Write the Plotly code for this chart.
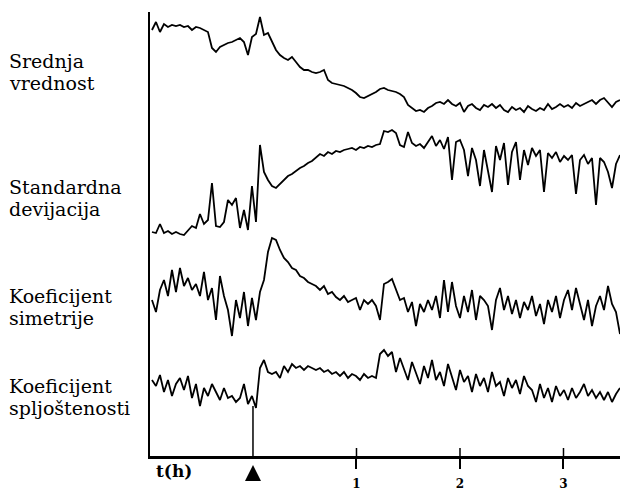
import numpy as np
import plotly.graph_objects as go

srednja = [90,98,88,96,93,95,94,95,93,94, 90,93,92,90,88,72,68,73,75,77,
           78,80,82,78,65,83,86,103,85,87, 78,70,65,62,60,63,58,53,50,50,
           48,47,48,50,40,37,36,35,34,32, 30,27,23,22,24,26,28,31,32,30,
           29,28,26,23,15,12,9,10,8,12, 14,17,18,16,20,16,14,17,8,14,
           16,12,10,15,13,16,12,15,10,8, 13,10,12,8,14,11,9,12,10,16,
           11,13,16,13,15,12,17,14,16,18, 20,16,20,22,17,13,18,20]
standardna = [8,7,16,7,9,6,8,6,5,10, 14,12,26,16,20,57,14,13,18,40,
              35,42,12,30,10,54,18,95,68,60, 54,52,56,60,64,66,69,72,74,77,
              79,83,86,84,88,86,89,88,90,91, 92,90,93,92,94,93,95,96,109,108,
              110,107,95,93,108,97,94,96,92,98, 104,94,100,91,103,60,98,100,90,64,
              92,80,54,90,70,48,94,80,97,55, 88,98,60,90,75,92,84,90,48,87,
              82,88,78,84,80,85,46,80,85,76, 82,35,82,78,68,52,76,85]
simetrija = [45,33,55,65,49,75,53,77,59,67, 55,61,49,73,45,57,25,69,49,35,
             9,45,27,53,19,47,25,53,65,93, 107,105,95,87,83,77,75,69,67,63,
             61,59,55,59,51,53,48,45,49,43, 45,47,35,45,41,45,39,25,61,63,
             66,55,45,47,33,43,19,41,33,45, 35,49,27,65,33,63,39,27,49,33,
             55,25,49,45,39,15,45,57,35,49, 31,45,27,43,35,49,29,41,21,45,
             33,49,27,45,55,35,57,41,25,45, 19,39,49,35,59,41,33,11]
spljostenost = [40,34,45,28,40,24,36,42,30,44, 22,36,14,32,24,36,28,20,32,22,
                24,18,22,36,16,24,12,52,60,48, 46,48,42,54,48,56,52,54,50,54,
                52,50,52,48,50,46,48,44,48,42, 46,44,40,46,42,44,42,66,70,64,
                68,48,62,52,40,58,46,36,54,42, 60,40,48,34,56,42,30,50,38,44,
                28,46,34,42,28,48,34,38,24,42, 32,40,26,44,34,30,18,36,22,32,
                18,34,24,30,20,32,22,28,36,24, 30,22,28,20,28,18,26,32]

labels = [["Srednja", "vrednost"], ["Standardna", "devijacija"],
          ["Koeficijent", "simetrije"], ["Koeficijent", "spljoštenosti"]]
tick_vals = [1, 2, 3]
tick_text = ["1", "2", "3"]
t_start, t_end = -0.976, 3.546

series = [srednja, standardna, simetrija, spljostenost]
offsets = [336, 216, 111, 36]          # vertical stacking of the traces
label_y = [[61, 83], [187, 209], [296, 318], [386, 408]]  # pixel rows

W, H = 623, 491
ML, MR, MT, MB = 150, 3, 12, 35
PH = H - MT - MB

fig = go.Figure()
for s, off in zip(series, offsets):
    t = np.linspace(t_start, t_end, len(s))
    fig.add_trace(go.Scatter(x=t, y=np.array(s) + off, mode="lines",
                             line=dict(color="black", width=1.8),
                             hoverinfo="skip", showlegend=False))

ann = []
for (l1, l2), (y1, y2) in zip(labels, label_y):
    for txt, yy in ((l1, y1), (l2, y2)):
        ann.append(dict(text=txt, xref="paper", yref="paper",
                        x=(7 - ML) / (W - ML - MR), y=1 - (yy - MT) / PH,
                        xanchor="left", yanchor="middle", showarrow=False,
                        font=dict(family="DejaVu Serif", size=19, color="black")))
ann.append(dict(text="<b>t(h)</b>", xref="paper", yref="paper",
                x=(154 - ML) / (W - ML - MR), y=1 - (471 - MT) / PH,
                xanchor="left", yanchor="middle", showarrow=False,
                font=dict(family="DejaVu Serif", size=17, color="black")))
ann.append(dict(text="", x=0, y=-9 / PH, xref="x", yref="paper", ax=0, ay=8,
                showarrow=True, arrowhead=2, arrowsize=2, arrowwidth=1.6,
                arrowcolor="black"))

shapes = [dict(type="line", xref="x", yref="y", x0=0, x1=0, y0=-6, y1=50,
               line=dict(color="black", width=1.5))]
for tv in tick_vals:
    shapes.append(dict(type="line", xref="x", yref="paper", x0=tv, x1=tv,
                       y0=0, y1=8 / PH, line=dict(color="black", width=1.5)))

fig.update_layout(
    width=W, height=H, margin=dict(l=ML, r=MR, t=MT, b=MB, autoexpand=False),
    paper_bgcolor="white", plot_bgcolor="white",
    xaxis=dict(range=[-0.995, 3.546], showgrid=False, zeroline=False,
               automargin=False,
               showline=True, linecolor="black", linewidth=2.5,
               tickvals=tick_vals, ticktext=tick_text, ticks="outside",
               ticklen=10, tickwidth=1.5, tickcolor="black",
               ticklabelstandoff=5,
               tickfont=dict(family="DejaVu Serif", size=12, color="black",
                             weight="bold")),
    yaxis=dict(range=[0, PH], showgrid=False, zeroline=False, showline=True,
               automargin=False,
               linecolor="black", linewidth=2, showticklabels=False, ticks=""),
    annotations=ann, shapes=shapes,
)
fig.write_html("out.html", config={"displayModeBar": False},
               post_script="document.body.style.margin='0';"
                           "document.body.style.overflow='hidden';")
